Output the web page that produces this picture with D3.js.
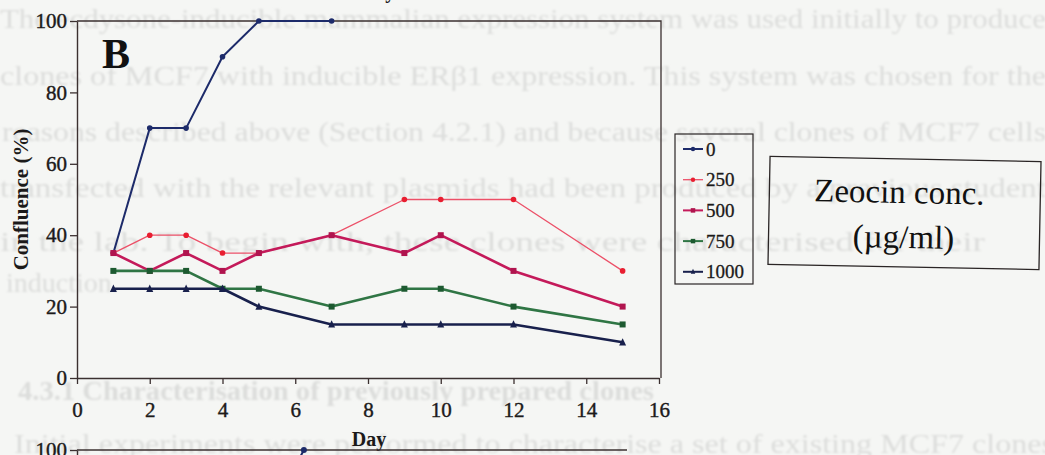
<!DOCTYPE html>
<html>
<head>
<meta charset="utf-8">
<script src="https://cdn.jsdelivr.net/npm/d3@7"></script>
<style>
  html, body { margin: 0; padding: 0; background: #f5f6f4; }
  svg { display: block; }
</style>
</head>
<body>
<svg id="chart" width="1045" height="455"></svg>
<script>
// ---- Data ----------------------------------------------------------------
const daysShort = [1, 2, 3, 4, 5, 7];
const daysFull  = [1, 2, 3, 4, 5, 7, 9, 10, 12, 15];

const conc0    = [35, 70, 70, 90, 100, 100];
const conc250  = [35, 40, 40, 35, 35, 40, 50, 50, 50, 30];
const conc500  = [35, 30, 35, 30, 35, 40, 35, 40, 30, 20];
const conc750  = [30, 30, 30, 25, 25, 20, 25, 25, 20, 15];
const conc1000 = [25, 25, 25, 25, 20, 15, 15, 15, 15, 10];

const seriesNames = ["0", "250", "500", "750", "1000"];
const yTicks = [0, 20, 40, 60, 80, 100];
const xTicks = [0, 2, 4, 6, 8, 10, 12, 14, 16];

// next panel (only its top edge is on this page)
const nextPanelDays   = [5.5, 6.6];
const nextPanelValues = [80, 100];
const nextPanelTicks  = [100];

// text of the following page, faintly visible through the paper
const pageLines = [
  "The ecdysone-inducible mammalian expression system was used initially to produce",
  "clones of MCF7 with inducible ERβ1 expression. This system was chosen for the",
  "reasons described above (Section 4.2.1) and because several clones of MCF7 cells",
  "transfected with the relevant plasmids had been produced by a previous student",
  "in the lab. To begin with, these clones were characterised for their",
  "induction.",
  "4.3.1 Characterisation of previously prepared clones",
  "Initial experiments were performed to characterise a set of existing MCF7 clones"
];

// ---- Layout --------------------------------------------------------------
const svg = d3.select("#chart");
const serif = "'Liberation Serif', 'Times New Roman', serif";
const ink = "#1c1a1a";

const x = d3.scaleLinear().domain([0, 16]).range([77, 659]);
const y = d3.scaleLinear().domain([0, 100]).range([378, 21]);

// faint page text behind the figure
const defs = svg.append("defs");
defs.append("filter").attr("id", "soft")
  .append("feGaussianBlur").attr("stdDeviation", 0.9);

const pageLayout = [
  { y: 28,  x: 0,  len: 1046 },
  { y: 85,  x: 0,  len: 1046 },
  { y: 141, x: 2,  len: 1044 },
  { y: 197, x: 0,  len: 1046 },
  { y: 251, x: 0,  len: 985 },
  { y: 292, x: 6,  len: null },
  { y: 400, x: 18, len: 636, bold: true },
  { y: 453, x: 14, len: 1040 }
];
const bg = svg.append("g").attr("filter", "url(#soft)")
  .attr("fill", "#dcdddb").style("font-family", serif).style("font-size", "28px");
pageLines.forEach((t, i) => {
  const L = pageLayout[i];
  const el = bg.append("text").attr("x", L.x).attr("y", L.y).text(t);
  if (L.len) el.attr("textLength", L.len).attr("lengthAdjust", "spacingAndGlyphs");
  if (L.bold) el.style("font-weight", "bold");
});

// ---- Axes and frame --------------------------------------------------------
const frame = "#3b3030";

const yAxis = svg.append("g").attr("transform", `translate(${x(0)},0)`)
  .call(d3.axisLeft(y).tickValues(yTicks).tickSize(7).tickSizeOuter(0).tickPadding(3));
const xAxis = svg.append("g").attr("transform", `translate(0,${y(0)})`)
  .call(d3.axisBottom(x).tickValues(xTicks).tickSize(6).tickSizeOuter(0).tickPadding(18));

[yAxis, xAxis].forEach(g => {
  g.select(".domain").attr("stroke", frame).attr("stroke-width", 1.4);
  g.selectAll(".tick line").attr("stroke", frame).attr("stroke-width", 1.3);
  g.selectAll(".tick text").attr("fill", ink).attr("stroke", ink).attr("stroke-width", 0.4)
    .style("font-family", serif).style("font-size", "21px");
});

// top and right edges of the plot area
svg.append("path")
  .attr("d", `M${x(0)},${y(100)} H${x(16) + 2} V${y(0)}`)
  .attr("fill", "none").attr("stroke", frame).attr("stroke-width", 1.3);

// axis titles
svg.append("text")
  .attr("x", (x(0) + x(16)) / 2 + 1).attr("y", 446)
  .attr("text-anchor", "middle").attr("fill", ink)
  .style("font-family", serif).style("font-size", "20px").style("font-weight", "bold")
  .text("Day");
svg.append("text")
  .attr("transform", `translate(28,${(y(0) + y(100)) / 2}) rotate(-90)`)
  .attr("text-anchor", "middle").attr("fill", ink)
  .style("font-family", serif).style("font-size", "21px").style("font-weight", "bold")
  .text("Confluence (%)");

// the axis title of the panel above, cut by the page edge
svg.append("text")
  .attr("x", 378).attr("y", -2).attr("text-anchor", "middle").attr("fill", ink)
  .style("font-family", serif).style("font-size", "20px").style("font-weight", "bold")
  .text("Day");

// panel letter
svg.append("text")
  .attr("x", 102).attr("y", 68).attr("fill", "#111")
  .style("font-family", serif).style("font-size", "42px").style("font-weight", "bold")
  .text("B");

// ---- Series ----------------------------------------------------------------
const styles = {
  "0":    { line: "#1d2b6a", width: 2.0, mark: "circle",   fill: "#1d2b6a", size: 2.8 },
  "250":  { line: "#ec5068", width: 1.3, mark: "circle",   fill: "#e81e30", size: 2.8 },
  "500":  { line: "#c41a5a", width: 2.6, mark: "square",   fill: "#b0144e", size: 6 },
  "750":  { line: "#2f7544", width: 2.6, mark: "square",   fill: "#1d5a30", size: 6 },
  "1000": { line: "#18204c", width: 2.6, mark: "triangle", fill: "#18204c", size: 7 }
};

const seriesData = {
  "0":    daysShort.map((d, i) => ({ day: d, v: conc0[i] })),
  "250":  daysFull.map((d, i) => ({ day: d, v: conc250[i] })),
  "500":  daysFull.map((d, i) => ({ day: d, v: conc500[i] })),
  "750":  daysFull.map((d, i) => ({ day: d, v: conc750[i] })),
  "1000": daysFull.map((d, i) => ({ day: d, v: conc1000[i] }))
};

const line = d3.line().x(d => x(d.day)).y(d => y(d.v));

function drawMarker(g, kind, cx, cy, s, fill) {
  if (kind === "circle") {
    g.append("circle").attr("cx", cx).attr("cy", cy).attr("r", s).attr("fill", fill);
  } else if (kind === "square") {
    g.append("rect").attr("x", cx - s / 2).attr("y", cy - s / 2)
      .attr("width", s).attr("height", s).attr("fill", fill);
  } else {
    const h = s * 0.9;
    g.append("path")
      .attr("d", `M${cx},${cy - h / 2 - 1} L${cx + s / 2},${cy + h / 2} L${cx - s / 2},${cy + h / 2} Z`)
      .attr("fill", fill);
  }
}

const plot = svg.append("g");
seriesNames.forEach(name => {
  const st = styles[name];
  const data = seriesData[name];
  const g = plot.append("g");
  g.append("path").datum(data).attr("d", line)
    .attr("fill", "none").attr("stroke", st.line).attr("stroke-width", st.width)
    .attr("stroke-linejoin", "round");
  data.forEach(d => drawMarker(g, st.mark, x(d.day), y(d.v), st.size, st.fill));
});

// ---- Legend ----------------------------------------------------------------
const legend = svg.append("g");
legend.append("rect").attr("x", 675).attr("y", 134).attr("width", 78).attr("height", 150)
  .attr("fill", "none").attr("stroke", "#2a2525").attr("stroke-width", 1.2);
seriesNames.forEach((name, i) => {
  const st = styles[name];
  const cy = 149 + i * 30.7;
  legend.append("line").attr("x1", 683).attr("x2", 703).attr("y1", cy).attr("y2", cy)
    .attr("stroke", st.line).attr("stroke-width", Math.min(st.width, 2));
  drawMarker(legend, st.mark, 693, cy, st.mark === "circle" ? 2.2 : 4.5, st.fill);
  legend.append("text").attr("x", 706).attr("y", cy).attr("dy", "0.35em")
    .attr("fill", ink).attr("stroke", ink).attr("stroke-width", 0.3)
    .style("font-family", serif).style("font-size", "19px").text(name);
});

// ---- Concentration label box -------------------------------------------------
const note = svg.append("g").attr("transform", "rotate(1.1, 904, 213)");
note.append("rect").attr("x", 769).attr("y", 159).attr("width", 271).attr("height", 108)
  .attr("fill", "none").attr("stroke", "#2a2525").attr("stroke-width", 1.3);
note.append("text").attr("x", 899).attr("y", 203).attr("text-anchor", "middle").attr("fill", "#111")
  .style("font-family", serif).style("font-size", "33px").text("Zeocin conc.");
note.append("text").attr("x", 904).attr("y", 248).attr("text-anchor", "middle").attr("fill", "#111")
  .style("font-family", serif).style("font-size", "33px").text("(µg/ml)");

// ---- Top edge of the following panel ------------------------------------------
const xNext = d3.scaleLinear().domain([0, 16]).range([77, 627]);
const yNext = d3.scaleLinear().domain([0, 100]).range([807, 450]);
const nextAxis = svg.append("g").attr("transform", `translate(${xNext(0)},0)`)
  .call(d3.axisLeft(yNext).tickValues(nextPanelTicks).tickSize(7).tickSizeOuter(0).tickPadding(3));
nextAxis.select(".domain").attr("stroke", frame).attr("stroke-width", 1.4);
nextAxis.selectAll(".tick line").attr("stroke", frame).attr("stroke-width", 1.3);
nextAxis.selectAll(".tick text").attr("fill", ink).attr("stroke", ink).attr("stroke-width", 0.4)
  .style("font-family", serif).style("font-size", "21px");
svg.append("line").attr("x1", xNext(0)).attr("x2", xNext(16)).attr("y1", yNext(100)).attr("y2", yNext(100))
  .attr("stroke", frame).attr("stroke-width", 1.3);
const nextData = nextPanelDays.map((d, i) => ({ day: d, v: nextPanelValues[i] }));
svg.append("path").datum(nextData)
  .attr("d", d3.line().x(d => xNext(d.day)).y(d => yNext(d.v)))
  .attr("fill", "none").attr("stroke", "#1d2b6a").attr("stroke-width", 2);
nextData.forEach(d => svg.append("circle").attr("cx", xNext(d.day)).attr("cy", yNext(d.v))
  .attr("r", 3).attr("fill", "#1d2b6a"));
</script>
</body>
</html>
